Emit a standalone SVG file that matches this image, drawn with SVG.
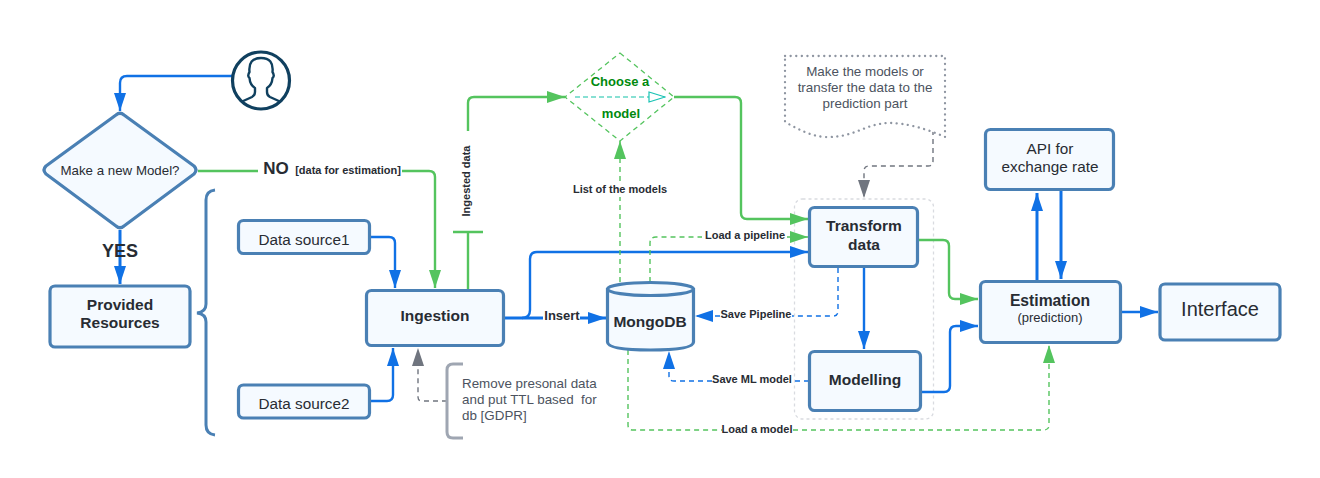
<svg xmlns="http://www.w3.org/2000/svg" width="1320" height="478" viewBox="0 0 1320 478">
<style>
text{font-family:"Liberation Sans",Arial,sans-serif;fill:#282c33;text-anchor:middle}
.n{fill:#f5faff;stroke:#4a80b4;stroke-width:3.2;stroke-linejoin:round}
.c{fill:none;stroke-linejoin:round}
.b{stroke:#1071e5;stroke-width:2.4}
.bt{stroke:#1071e5;stroke-width:3}
.g{stroke:#54c45e;stroke-width:2.4}
.gd{stroke:#54c45e;stroke-width:1.4;stroke-dasharray:5 4}
.bd{stroke:#1071e5;stroke-width:1.4;stroke-dasharray:5 4}
.yd{stroke:#70757f;stroke-width:1.4;stroke-dasharray:5 4}
.l{font-size:11px;font-weight:bold}
.h{font-size:15.500px;font-weight:bold}
.t{font-size:15.300px}
.note{font-size:13.400px;fill:#4c5360}
</style>
<defs>
<marker id="ab" viewBox="0 0 18 12" refX="18" refY="6" markerWidth="18" markerHeight="12" markerUnits="userSpaceOnUse" orient="auto"><path d="M0 0L18 6L0 12Z" fill="#1071e5"/></marker>
<marker id="ag" viewBox="0 0 18 12" refX="18" refY="6" markerWidth="18" markerHeight="12" markerUnits="userSpaceOnUse" orient="auto"><path d="M0 0L18 6L0 12Z" fill="#54c45e"/></marker>
<marker id="ay" viewBox="0 0 18 12" refX="18" refY="6" markerWidth="18" markerHeight="12" markerUnits="userSpaceOnUse" orient="auto"><path d="M0 0L18 6L0 12Z" fill="#70757f"/></marker>
<marker id="at" viewBox="0 0 18 12" refX="17" refY="6" markerWidth="18" markerHeight="12" markerUnits="userSpaceOnUse" orient="auto"><path d="M1 1L17 6L1 11Z" fill="#fff" stroke="#19c3b4" stroke-width="1.2"/></marker>
</defs>

<g id="group-frame"><rect x="794.500" y="199" width="139" height="220" rx="8" fill="none" stroke="#d9dbe0" stroke-width="1.300" stroke-dasharray="3 3"/></g>

<g id="connectors">
<path class="c b" marker-end="url(#ab)" d="M232 76H127Q120 76 120 83V111"/>
<path class="c bt" marker-end="url(#ab)" d="M120 230V284"/>
<path class="c g" d="M198 171H258M402 171H429Q435 171 435 177V288" marker-end="url(#ag)"/>
<path class="c b" marker-end="url(#ab)" d="M370 237H389Q395 237 395 243V288"/>
<path class="c b" marker-end="url(#ab)" d="M370 401H387Q393 401 393 395V348"/>
<path class="c g" d="M468 289V232M453 232H483"/>
<path class="c g" marker-end="url(#ag)" d="M468 131V103Q468 97 474 97H565"/>
<path class="c g" marker-end="url(#ag)" d="M674 97H735Q741 97 741 103V213Q741 219 747 219H808"/>
<path class="c bt" d="M505 318H543"/>
<path class="c bt" marker-end="url(#ab)" d="M580 318H606"/>
<path class="c b" marker-end="url(#ab)" d="M522 318Q530 318 530 310V259Q530 252 537 252H808"/>
<path class="c gd" marker-end="url(#ag)" d="M620 282V197M620 181V141"/>
<path class="c gd" marker-end="url(#ag)" d="M650 282V243Q650 237 656 237H702M787 237H808"/>
<path class="c bd" marker-end="url(#ab)" d="M838 268V311Q838 316 833 316H792M720 316H695"/>
<path class="c bd" marker-end="url(#ab)" d="M809 381H793M712 381H674Q669 381 669 376V351"/>
<path class="c b" marker-end="url(#ab)" d="M864 268V349"/>
<path class="c gd" marker-end="url(#ag)" d="M628 350V425Q628 430 633 430H722M793 430H1044Q1049 430 1049 425V345"/>
<path class="c g" marker-end="url(#ag)" d="M918 240H943Q949 240 949 246V293Q949 299 955 299H978"/>
<path class="c b" marker-end="url(#ab)" d="M921 392H944Q950 392 950 386V332Q950 326 956 326H978"/>
<path class="c bt" marker-end="url(#ab)" d="M1037 281V193"/>
<path class="c bt" marker-end="url(#ab)" d="M1061 190V279"/>
<path class="c b" marker-end="url(#ab)" d="M1121 312H1158"/>
<path class="c yd" marker-end="url(#ay)" d="M447 401H422Q418 401 418 397V348"/>
<path class="c yd" marker-end="url(#ay)" d="M933 130V161Q933 166 928 166H869Q864 166 864 171V198"/>
<text x="276" y="174" style="font-size:17px;font-weight:bold">NO</text>
<text x="348" y="174" style="font-size:11px;font-weight:bold">[data for estimation]</text>
<text x="120" y="257" style="font-size:18px;font-weight:bold">YES</text>
<text transform="translate(470 181) rotate(-90)" class="l">Ingested data</text>
<text x="620" y="193" class="l">List of the models</text>
<text x="745" y="239" class="l">Load a pipeline</text>
<text x="562" y="320" style="font-size:13px;font-weight:bold">Insert</text>
<text x="756" y="318" class="l">Save Pipeline</text>
<text x="752" y="383" class="l">Save ML model</text>
<text x="757" y="433" class="l">Load a model</text>
</g>

<g id="user">
<circle cx="261" cy="80.500" r="28.500" fill="#fff" stroke="#10405f" stroke-width="3.200"/>
<path d="M241 102L252 97Q255 95.500 255 92V88Q250 85 249.500 78Q247 76 249.500 72Q248 58 261 58Q274 58 272.500 72Q275 76 272.500 78Q272 85 267 88V92Q267 95.500 270 97L281 102" fill="none" stroke="#10405f" stroke-width="2.400" stroke-linejoin="round"/>
</g>
<g id="decision-new-model">
<path class="n" d="M116 115Q120 111.500 124 115L194 166Q198 170 194 174L124 226Q120 229.500 116 226L46 174Q42 170 46 166Z"/>
<text x="120" y="175" style="font-size:13.300px">Make a new Model?</text>
</g>
<g id="provided-resources">
<rect class="n" x="50" y="286" width="140" height="61" rx="5"/>
<text class="h" x="120" y="310">Provided</text>
<text class="h" x="120" y="328">Resources</text>
</g>
<g id="brace">
<path d="M215 190Q206 191 206 200V304Q206 312 197 313Q206 314 206 322V425Q206 434 215 435" fill="none" stroke="#4a80b4" stroke-width="3"/>
</g>
<g id="data-source-1">
<rect class="n" x="238.500" y="220.500" width="131" height="33" rx="5"/>
<text class="t" x="304" y="245">Data source1</text>
</g>
<g id="data-source-2">
<rect class="n" x="238.500" y="385" width="131" height="33" rx="5"/>
<text class="t" x="304" y="409">Data source2</text>
</g>
<g id="ingestion">
<rect class="n" x="366.500" y="290.500" width="137" height="55" rx="5"/>
<text class="h" x="435" y="321">Ingestion</text>
</g>
<g id="note-gdpr">
<path d="M463 364H453Q447 364 447 370V432Q447 438 453 438H463" fill="none" stroke="#9fa6b2" stroke-width="3"/>
<text class="note" x="462" y="388" style="text-anchor:start">Remove presonal data</text>
<text class="note" x="462" y="404" style="text-anchor:start;white-space:pre">and put TTL based  for</text>
<text class="note" x="462" y="420" style="text-anchor:start">db [GDPR]</text>
</g>
<g id="choose-model">
<path d="M620 53L674 97L620 141L565 97Z" fill="none" stroke="#54c45e" stroke-width="1.300" stroke-dasharray="5 4"/>
<path d="M575 97H665" fill="none" stroke="#12c2a8" stroke-width="1.200" stroke-dasharray="5 3" marker-end="url(#at)"/>
<text x="620" y="86" style="font-size:13px;font-weight:bold;fill:#008a0e">Choose a</text>
<text x="621" y="118" style="font-size:13px;font-weight:bold;fill:#008a0e">model</text>
</g>
<g id="note-prediction">
<path d="M785 56H945V137C925 128 905 123 890 123C865 123 855 138 825 137C810 136 798 129 785 122Z" fill="#fff" stroke="#8e95a1" stroke-width="2.300" stroke-dasharray="0.100 5.500" stroke-linecap="round"/>
<text class="note" x="865" y="76">Make the models or</text>
<text class="note" x="865" y="92">transfer the data to the</text>
<text class="note" x="865" y="108">prediction part</text>
</g>
<g id="mongodb">
<path class="n" d="M607.500 288V342Q607.500 350 650.500 350Q693.500 350 693.500 342V288"/>
<ellipse class="n" cx="650.500" cy="289" rx="43" ry="6.500"/>
<text class="h" x="650" y="327">MongoDB</text>
</g>
<g id="transform-data">
<rect class="n" x="809.500" y="207.500" width="108" height="59" rx="5"/>
<text class="h" x="864" y="231">Transform</text>
<text class="h" x="864" y="250">data</text>
</g>
<g id="modelling">
<rect class="n" x="809.500" y="351.500" width="111" height="59" rx="5"/>
<text class="h" x="865" y="385">Modelling</text>
</g>
<g id="api">
<rect class="n" x="985.500" y="129.500" width="128" height="60" rx="5"/>
<text x="1050" y="154" style="font-size:15.300px">API for</text>
<text x="1050" y="172" style="font-size:15.300px">exchange rate</text>
</g>
<g id="estimation">
<rect class="n" x="980.500" y="281.500" width="140" height="61" rx="5"/>
<text x="1050" y="306" style="font-size:15.700px;font-weight:bold">Estimation</text>
<text x="1050" y="322" style="font-size:13px">(prediction)</text>
</g>
<g id="interface">
<rect class="n" x="1160" y="284" width="120" height="56" rx="5"/>
<text x="1220" y="316" style="font-size:20px">Interface</text>
</g>
</svg>
